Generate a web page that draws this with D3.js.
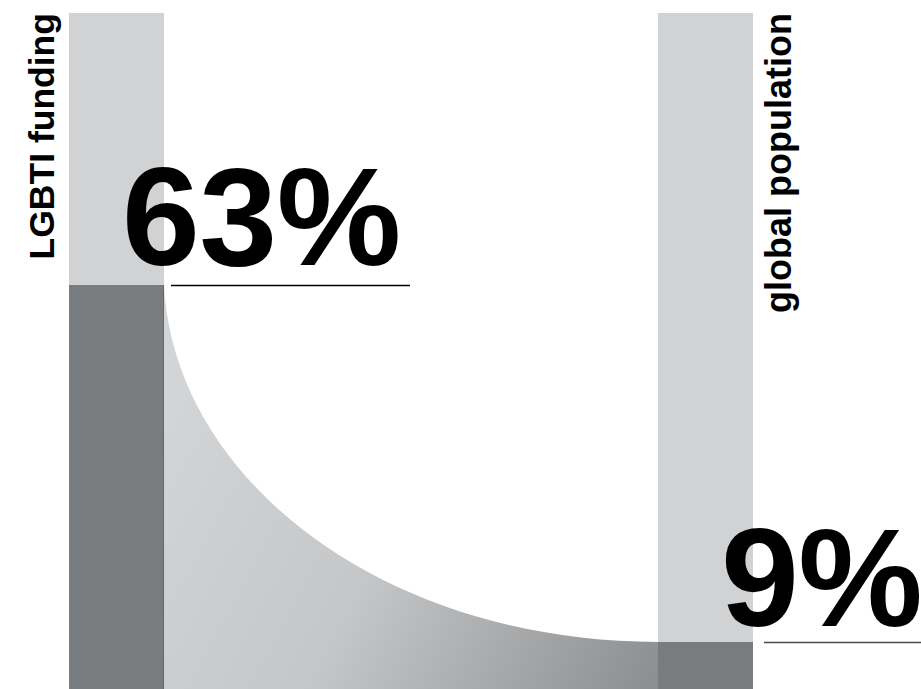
<!DOCTYPE html>
<html>
<head>
<meta charset="utf-8">
<script src="https://cdn.jsdelivr.net/npm/d3@7"></script>
<style>
  html, body { margin:0; padding:0; background:#fff; }
  svg { display:block; }
  text { font-family: "Liberation Sans", Arial, Helvetica, sans-serif; font-weight:700; fill:#000; }
</style>
</head>
<body>
<svg id="chart"></svg>
<script>
// --- data ---
const categories = ['LGBTI funding', 'global population'];
const shares = [63, 9];               // percent
const shareLabels = ['63%', '9%'];

// --- sizes ---
const W = 921, H = 689;
const svg = d3.select('#chart').attr('width', W).attr('height', H);

const trackTop = 13;
const x = d3.scaleBand().domain(categories).range([69, 753]).paddingInner(0.8387).paddingOuter(0);
// value -> y (picture isn't strictly proportional, fit the two split points)
const y = d3.scaleLinear().domain([0, 100]).range([701.5, 40.4]);

const LIGHT = '#d1d2d4', DARK = '#797c7f';

// --- gradient for the connector ---
const defs = svg.append('defs');
const grad = defs.append('linearGradient')
  .attr('id', 'flow').attr('gradientUnits', 'userSpaceOnUse')
  .attr('x1', x(categories[0]) + x.bandwidth()).attr('y1', 420)
  .attr('x2', x(categories[1])).attr('y2', H);
grad.selectAll('stop')
  .data([[0, '#d3d4d6'], [0.45, '#c4c6c7'], [1, '#8c8d8f']])
  .join('stop')
  .attr('offset', d => d[0]).attr('stop-color', d => d[1]);

// --- connector between the two dark parts ---
const x0 = x(categories[0]) + x.bandwidth(), y0 = y(shares[0]);
const x1 = x(categories[1]), y1 = y(shares[1]);
const w = x1 - x0, h = y1 - y0;
const p = d3.path();
p.moveTo(x0, y0);
p.bezierCurveTo(x0 + 0.02 * w, y0 + 0.55 * h, x1 - 0.55 * w, y1, x1, y1);
p.lineTo(x1, H);
p.lineTo(x0, H);
p.closePath();
svg.append('path').attr('d', p.toString()).attr('fill', 'url(#flow)');

// --- bars ---
const bars = svg.selectAll('g.bar')
  .data(categories.map((c, i) => ({ cat: c, v: shares[i], label: shareLabels[i] })))
  .join('g').attr('class', 'bar');

bars.append('rect')
  .attr('x', d => x(d.cat)).attr('width', x.bandwidth())
  .attr('y', trackTop).attr('height', H - trackTop)
  .attr('fill', LIGHT);

bars.append('rect')
  .attr('x', d => x(d.cat)).attr('width', x.bandwidth())
  .attr('y', d => y(d.v)).attr('height', d => H - y(d.v))
  .attr('fill', DARK);

// thin edge on the right side of the left bar
svg.append('line')
  .attr('x1', x0 - 0.5).attr('x2', x0 - 0.5)
  .attr('y1', y0).attr('y2', H)
  .attr('stroke', '#66696c').attr('stroke-width', 1);

// --- category labels (rotated) ---
const catLabelX = [54, 791];
const catFont = [35.5, 36];
bars.append('text')
  .attr('transform', (d, i) => `translate(${catLabelX[i]},${trackTop}) rotate(-90)`)
  .attr('text-anchor', 'end')
  .attr('font-size', (d, i) => catFont[i])
  .text(d => d.cat);

// --- big percentages with underline ---
const bigX = [122, 721];
const bigBase = [265, 626];
const ruleX = [[171, 410], [764, 921]];
const ruleCol = ['#000', '#4a4a4a'];
bars.append('text')
  .attr('x', (d, i) => bigX[i]).attr('y', (d, i) => bigBase[i])
  .attr('font-size', 140)
  .attr('letter-spacing', -0.5)
  .text(d => d.label);

bars.append('line')
  .attr('x1', (d, i) => ruleX[i][0]).attr('x2', (d, i) => ruleX[i][1])
  .attr('y1', d => y(d.v) + 0.5).attr('y2', d => y(d.v) + 0.5)
  .attr('stroke', (d, i) => ruleCol[i]).attr('stroke-width', 1.5);
</script>
</body>
</html>
